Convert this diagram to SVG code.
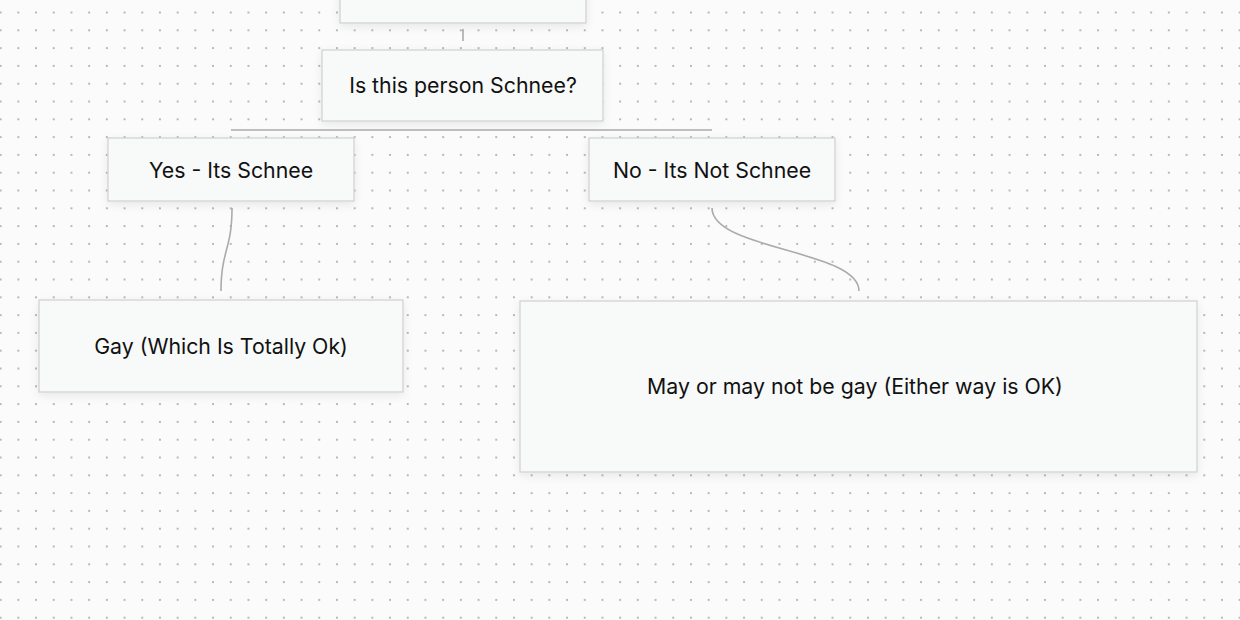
<svg xmlns="http://www.w3.org/2000/svg" width="1240" height="620" viewBox="0 0 1240 620">
<defs>
<pattern id="dots" x="0" y="0" width="17.7" height="17.8" patternUnits="userSpaceOnUse" patternTransform="translate(9.5 3.6)">
<circle cx="8.85" cy="8.9" r="0.9" fill="#9a9a9a"/>
</pattern>
<filter id="sh" x="-10%" y="-20%" width="120%" height="150%">
<feDropShadow dx="0" dy="3" stdDeviation="4" flood-color="#000" flood-opacity="0.08"/>
</filter>
<style>
.box{fill:#f8f9f9;stroke:#cfd0d1;stroke-width:1.2;filter:url(#sh)}
.lbl{font-family:Inter,"Noto Sans","Liberation Sans",sans-serif;font-size:21.3px;fill:#111;text-anchor:middle;dominant-baseline:central}
.con{fill:none;stroke:#ababab;stroke-width:1.6}
</style>
</defs>
<rect width="1240" height="620" fill="#fbfbfb"/>
<rect width="1240" height="620" fill="url(#dots)"/>
<g id="connectors">
<path class="con" d="M463,29 V41"/>
<path class="con" d="M231,130 H712"/>
<path class="con" d="M232,208 C232,250 221,250 221,291"/>
<path class="con" d="M712,208 C712,250 859,250 859,291"/>
</g>
<g id="node-top">
<rect class="box" x="340" y="-10" width="246" height="33"/>
</g>
<g id="node-question">
<rect class="box" x="322" y="50" width="281" height="71"/>
<text class="lbl" x="463" y="85">Is this person Schnee?</text>
</g>
<g id="node-yes">
<rect class="box" x="108" y="138" width="246" height="63"/>
<text class="lbl" x="231" y="170">Yes - Its Schnee</text>
</g>
<g id="node-no">
<rect class="box" x="589" y="138" width="246" height="63"/>
<text class="lbl" x="712" y="170">No - Its Not Schnee</text>
</g>
<g id="node-gay">
<rect class="box" x="39" y="300" width="364" height="92"/>
<text class="lbl" x="221" y="346">Gay (Which Is Totally Ok)</text>
</g>
<g id="node-maybe">
<rect class="box" x="520" y="301" width="677" height="171"/>
<text class="lbl" x="855" y="386">May or may not be gay (Either way is OK)</text>
</g>
</svg>
